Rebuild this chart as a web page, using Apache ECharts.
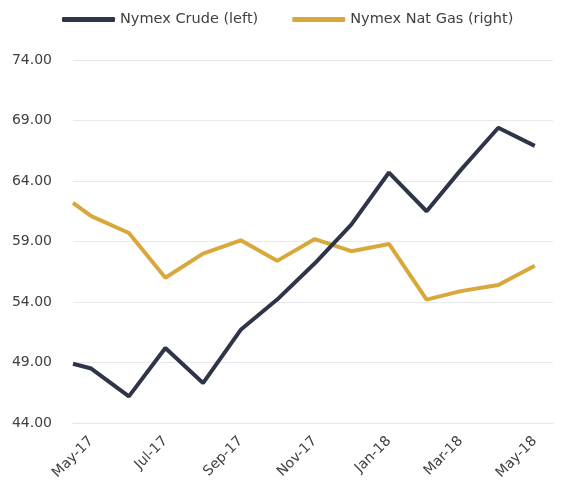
<!DOCTYPE html>
<html>
<head>
<meta charset="utf-8">
<script src="https://cdn.jsdelivr.net/npm/echarts@6/dist/echarts.min.js"></script>
<style>html,body{margin:0;padding:0;background:#fff}#c{width:561px;height:493px}</style>
</head>
<body>
<div id="c"></div>
<script>
var dates = ['2017-04-16','2017-05-01','2017-06-01','2017-07-01','2017-08-01','2017-09-01','2017-10-01','2017-11-01','2017-12-01','2018-01-01','2018-02-01','2018-03-01','2018-04-01','2018-05-01'];
var crude = [48.9, 48.5, 46.2, 50.2, 47.3, 51.7, 54.2, 57.2, 60.4, 64.7, 61.5, 64.9, 68.4, 66.9];
var natGas = [62.2, 61.1, 59.7, 56.0, 58.0, 59.1, 57.4, 59.2, 58.2, 58.8, 54.2, 54.9, 55.4, 57.0];
var xLabelDates = ['2017-05-01','2017-07-01','2017-09-01','2017-11-01','2018-01-01','2018-03-01','2018-05-01'];
var yTicks = [44, 49, 54, 59, 64, 69, 74];
var monthNames = ['Jan','Feb','Mar','Apr','May','Jun','Jul','Aug','Sep','Oct','Nov','Dec'];

function ts(s){ var p = s.split('-'); return Date.UTC(+p[0], +p[1]-1, +p[2]); }
function pairs(vals){ return dates.map(function(d,i){ return [ts(d), vals[i]]; }); }

var font = 'DejaVu Sans';
var chart = echarts.init(document.getElementById('c'));
chart.setOption({
  animation: false,
  textStyle: {fontFamily: font},
  legend: {
    top: 7, left: 57,
    icon: 'roundRect', itemWidth: 53, itemHeight: 5, itemGap: 34,
    textStyle: {fontFamily: font, fontSize: 14.5, color: '#404040'},
    data: ['Nymex Crude (left)', 'Nymex Nat Gas (right)']
  },
  grid: {left: 73, right: 8, top: 60, bottom: 70, containLabel: false},
  xAxis: {
    type: 'value',
    min: ts('2017-04-16'), max: ts('2018-05-16'),
    axisLine: {show: true, lineStyle: {color: '#e4e4ea', width: 1}},
    axisTick: {show: false, customValues: xLabelDates.map(ts)},
    splitLine: {show: false},
    axisLabel: {
      customValues: xLabelDates.map(ts),
      rotate: 45, margin: 16,
      fontFamily: font, fontSize: 14, color: '#404040',
      formatter: function(v){ var d = new Date(v); return monthNames[d.getUTCMonth()] + '-' + String(d.getUTCFullYear()).slice(2); }
    }
  },
  yAxis: {
    type: 'value', min: 44, max: 74,
    axisLine: {show: false},
    axisTick: {show: false, customValues: yTicks},
    splitLine: {show: true, lineStyle: {color: '#e8e8ee', width: 1}},
    axisLabel: {
      customValues: yTicks, margin: 21,
      fontFamily: font, fontSize: 14, color: '#404040',
      formatter: function(v){ return v.toFixed(2); }
    }
  },
  series: [
    {name: 'Nymex Crude (left)', type: 'line', data: pairs(crude), symbol: 'none',
     lineStyle: {width: 4, color: '#2e3548'}, itemStyle: {color: '#2e3548'}, z: 3},
    {name: 'Nymex Nat Gas (right)', type: 'line', data: pairs(natGas), symbol: 'none',
     lineStyle: {width: 4, color: '#d9a83c'}, itemStyle: {color: '#d9a83c'}, z: 2}
  ]
});
</script>
</body>
</html>
